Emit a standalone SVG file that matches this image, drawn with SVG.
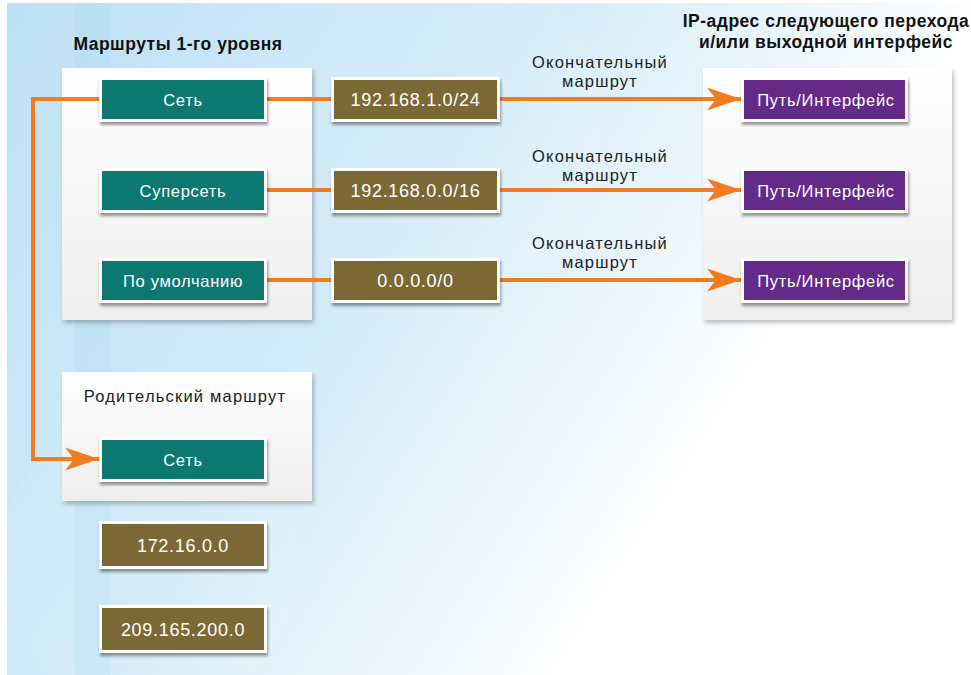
<svg xmlns="http://www.w3.org/2000/svg" width="971" height="675" viewBox="0 0 971 675">
  <defs>
    <linearGradient id="bg" x1="0" y1="0" x2="1" y2="0.45">
      <stop offset="0" stop-color="#bde1f4"/>
      <stop offset="0.45" stop-color="#d3ebf8"/>
      <stop offset="0.72" stop-color="#eef7fd"/>
      <stop offset="0.85" stop-color="#ffffff"/>
    </linearGradient>
    <linearGradient id="panelFill" x1="0" y1="0" x2="0" y2="1">
      <stop offset="0" stop-color="#ffffff"/>
      <stop offset="1" stop-color="#eeeeee"/>
    </linearGradient>
    <filter id="panelShadow" x="-10%" y="-10%" width="120%" height="120%">
      <feDropShadow dx="2" dy="3" stdDeviation="2" flood-color="#000" flood-opacity="0.25"/>
    </filter>
    <filter id="boxShadow" x="-10%" y="-20%" width="120%" height="150%">
      <feDropShadow dx="1" dy="3" stdDeviation="1.6" flood-color="#000" flood-opacity="0.4"/>
    </filter>
    <marker id="arrow" markerWidth="36" markerHeight="26" refX="35" refY="13" orient="auto" markerUnits="userSpaceOnUse">
      <path d="M35,13 L1,1.5 L10,13 L1,24.5 Z" fill="#f47a20"/>
    </marker>
  </defs>
  <style>
    .panel { fill: url(#panelFill); filter: url(#panelShadow); }
    .box { stroke: #ffffff; stroke-width: 3; filter: url(#boxShadow); }
    .teal { fill: #0b7870; }
    .olive { fill: #7a6934; }
    .purple { fill: #632a87; }
    .bt { font-family: "Liberation Sans", Arial, sans-serif; font-size: 16.5px; fill: #ffffff; text-anchor: middle; letter-spacing: 0.7px; }
    .num { font-size: 18px; }
    .lbl { font-family: "Liberation Sans", Arial, sans-serif; font-size: 16.5px; fill: #222222; text-anchor: middle; letter-spacing: 1.2px; }
    .title { font-family: "Liberation Sans", Arial, sans-serif; font-size: 17.5px; font-weight: bold; fill: #111111; text-anchor: middle; letter-spacing: 0.5px; }
    .wire { fill: none; stroke: #f47a20; stroke-width: 4; }
  </style>

  <!-- backdrop -->
  <rect x="0" y="0" width="971" height="675" fill="#ffffff"/>
  <rect x="7" y="3" width="964" height="672" fill="url(#bg)"/>
  <rect x="75" y="3" width="36" height="672" fill="#a9d6ee" opacity="0.25"/>
  <circle cx="150" cy="560" r="150" fill="#ffffff" opacity="0.08"/>
  <circle cx="420" cy="120" r="180" fill="#ffffff" opacity="0.07"/>

  <!-- headings -->
  <g id="heading-level1">
    <text class="title" x="178" y="50">Маршруты 1-го уровня</text>
  </g>
  <g id="heading-nexthop">
    <text class="title" x="826" y="27">IP-адрес следующего перехода</text>
    <text class="title" x="826" y="48">и/или выходной интерфейс</text>
  </g>

  <!-- panels -->
  <g id="panel-level1"><rect class="panel" x="62" y="68" width="250" height="252"/></g>
  <g id="panel-nexthop"><rect class="panel" x="703" y="68" width="249" height="252"/></g>
  <g id="panel-parent">
    <rect class="panel" x="62" y="372" width="250" height="129"/>
    <text class="lbl" x="185" y="402" font-size="15" letter-spacing="0">Родительский маршрут</text>
  </g>

  <!-- connectors -->
  <g id="connectors">
    <path class="wire" d="M100,99 H33 V459 H99" marker-end="url(#arrow)"/>
    <line class="wire" x1="266" y1="99" x2="333" y2="99"/>
    <line class="wire" x1="266" y1="190" x2="333" y2="190"/>
    <line class="wire" x1="266" y1="280" x2="333" y2="280"/>
    <line class="wire" x1="498" y1="99" x2="741" y2="99" marker-end="url(#arrow)"/>
    <line class="wire" x1="498" y1="190" x2="741" y2="190" marker-end="url(#arrow)"/>
    <line class="wire" x1="498" y1="280" x2="741" y2="280" marker-end="url(#arrow)"/>
    <text class="lbl" x="600" y="68">Окончательный</text>
    <text class="lbl" x="600" y="87">маршрут</text>
    <text class="lbl" x="600" y="162">Окончательный</text>
    <text class="lbl" x="600" y="181">маршрут</text>
    <text class="lbl" x="600" y="249">Окончательный</text>
    <text class="lbl" x="600" y="268">маршрут</text>
  </g>

  <!-- level-1 route types -->
  <g id="net-1">
    <rect class="box teal" x="100.5" y="78.5" width="165" height="42"/>
    <text class="bt" x="183" y="105.5">Сеть</text>
  </g>
  <g id="supernet">
    <rect class="box teal" x="100.5" y="169.5" width="165" height="42"/>
    <text class="bt" x="183" y="196.5">Суперсеть</text>
  </g>
  <g id="default">
    <rect class="box teal" x="100.5" y="259.5" width="165" height="42"/>
    <text class="bt" x="183" y="286.5">По умолчанию</text>
  </g>

  <!-- prefixes -->
  <g id="prefix-24">
    <rect class="box olive" x="332.5" y="78.5" width="166" height="42"/>
    <text class="bt num" x="415.5" y="106">192.168.1.0/24</text>
  </g>
  <g id="prefix-16">
    <rect class="box olive" x="332.5" y="169.5" width="166" height="42"/>
    <text class="bt num" x="415.5" y="197">192.168.0.0/16</text>
  </g>
  <g id="prefix-0">
    <rect class="box olive" x="332.5" y="259.5" width="166" height="42"/>
    <text class="bt num" x="415.5" y="287">0.0.0.0/0</text>
  </g>

  <!-- next hop / exit interface -->
  <g id="path-1">
    <rect class="box purple" x="742.5" y="78.5" width="164" height="42"/>
    <text class="bt" x="826" y="105.5">Путь/Интерфейс</text>
  </g>
  <g id="path-2">
    <rect class="box purple" x="742.5" y="169.5" width="164" height="42"/>
    <text class="bt" x="826" y="196.5">Путь/Интерфейс</text>
  </g>
  <g id="path-3">
    <rect class="box purple" x="742.5" y="259.5" width="164" height="42"/>
    <text class="bt" x="826" y="286.5">Путь/Интерфейс</text>
  </g>

  <!-- parent route and its child networks -->
  <g id="net-parent">
    <rect class="box teal" x="100.5" y="438.5" width="165" height="42"/>
    <text class="bt" x="183" y="465.5">Сеть</text>
  </g>
  <g id="child-172">
    <rect class="box olive" x="100.5" y="522.5" width="165" height="45"/>
    <text class="bt num" x="183" y="551.5">172.16.0.0</text>
  </g>
  <g id="child-209">
    <rect class="box olive" x="100.5" y="606.5" width="165" height="45"/>
    <text class="bt num" x="183" y="635.5">209.165.200.0</text>
  </g>
</svg>
